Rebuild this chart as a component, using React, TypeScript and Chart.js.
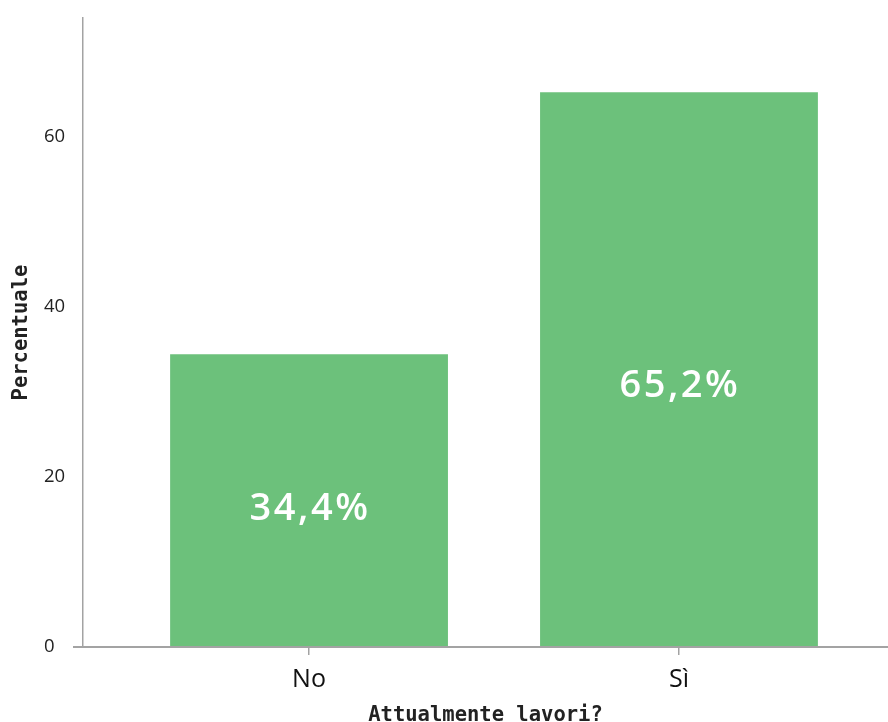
import React, { useEffect, useRef } from "react";
import { Chart, registerables } from "chart.js";

Chart.register(...registerables);

// Survey answers and their share of respondents (%)
const categories = ["No", "Sì"];
const percentages = [34.4, 65.2];
const valueLabels = ["34,4%", "65,2%"];
const yTicks = [0, 20, 40, 60];

const BAR_COLOR = "#6cc17b";
const AXIS_COLOR = "#a3a3a3";

// Writes the percentage inside each bar
const barLabelPlugin = {
  id: "barLabels",
  afterDatasetsDraw(chart: any) {
    const { ctx } = chart;
    const xs = chart.scales.x;
    const ys = chart.scales.y;
    ctx.save();
    ctx.fillStyle = "#ffffff";
    ctx.font = "600 38px 'Open Sans', sans-serif";
    (ctx as any).letterSpacing = "2.5px";
    ctx.textAlign = "center";
    ctx.textBaseline = "middle";
    percentages.forEach((v, i) => {
      const x = xs.getPixelForValue(i) + 1;
      const y = ys.getPixelForValue(v * 0.47);
      ctx.fillText(valueLabels[i], x, y);
    });
    ctx.restore();
  },
};

export default function App() {
  const canvasRef = useRef<HTMLCanvasElement>(null);

  useEffect(() => {
    if (!canvasRef.current) return;
    const chart = new Chart(canvasRef.current, {
      type: "bar",
      data: {
        datasets: [
          {
            data: percentages.map((v, i) => ({ x: i, y: v })),
            backgroundColor: BAR_COLOR,
            borderWidth: 0,
            barPercentage: 0.751,
            categoryPercentage: 1,
          },
        ],
      },
      options: {
        animation: false,
        responsive: false,
        maintainAspectRatio: false,
        layout: { padding: { top: 18, right: 0, left: 44, bottom: 0 } },
        plugins: {
          legend: { display: false },
          tooltip: { enabled: false },
        },
        scales: {
          x: {
            type: "linear",
            offset: false,
            min: -0.611,
            max: 1.565,
            afterBuildTicks: (scale: any) => {
              scale.ticks = categories.map((_, i) => ({ value: i }));
            },
            afterFit: (scale: any) => {
              scale.height = 75;
            },
            ticks: {
              callback: (value: any) => categories[value as number] ?? "",
              color: "#111111",
              font: { family: "'Open Sans', sans-serif", size: 25 },
              padding: 10,
              maxRotation: 0,
              autoSkip: false,
            },
            grid: {
              offset: false,
              drawOnChartArea: false,
              drawTicks: true,
              tickLength: 8,
              color: AXIS_COLOR,
              lineWidth: 1.5,
            },
            border: { display: true, color: AXIS_COLOR, width: 2 },
            title: {
              display: true,
              text: "Attualmente lavori?",
              color: "#222222",
              font: { family: "'DejaVu Sans Mono', monospace", size: 20.5, weight: "bold" },
              padding: { top: 0, bottom: -6 },
            },
          },
          y: {
            min: 0,
            max: 73.9,
            afterBuildTicks: (scale: any) => {
              scale.ticks = yTicks.map((v) => ({ value: v }));
            },
            afterFit: (scale: any) => {
              scale.width = 39;
            },
            ticks: {
              color: "#222222",
              font: { family: "'Open Sans', sans-serif", size: 18.5 },
              padding: 7,
              crossAlign: "far",
            },
            grid: {
              drawOnChartArea: false,
              drawTicks: true,
              tickLength: 10,
              color: (c: any) => (c.tick && c.tick.value === 0 ? AXIS_COLOR : "rgba(0,0,0,0)"),
              lineWidth: 2,
            },
            border: { display: true, color: AXIS_COLOR, width: 1.5 },
            title: {
              display: true,
              text: "Percentuale",
              color: "#222222",
              font: { family: "'DejaVu Sans Mono', monospace", size: 20.5, weight: "bold" },
              padding: { top: -35, bottom: 0 },
            },
          },
        },
      },
      plugins: [barLabelPlugin],
    });
    return () => chart.destroy();
  }, []);

  return (
    <div style={{ position: "absolute", left: 0, top: 0, width: 888, height: 722, background: "#ffffff" }}>
      <canvas ref={canvasRef} width={888} height={722} style={{ width: 888, height: 722 }} />
    </div>
  );
}
